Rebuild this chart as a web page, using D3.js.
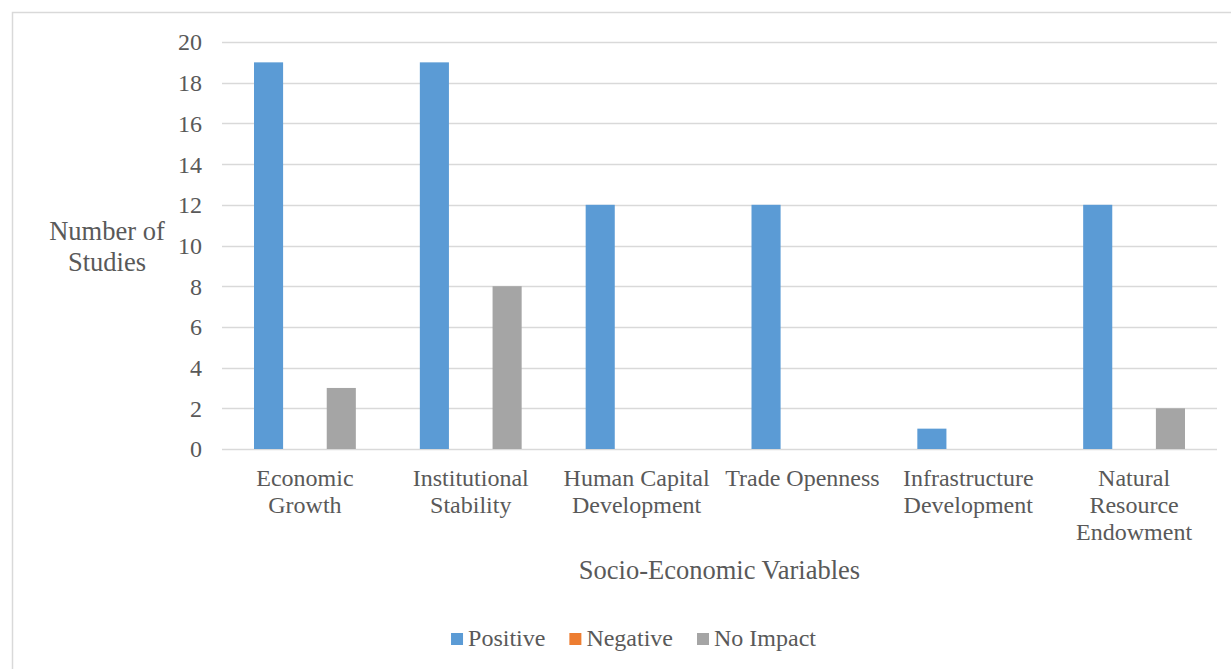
<!DOCTYPE html>
<html>
<head>
<meta charset="utf-8">
<script src="https://cdn.jsdelivr.net/npm/d3@7"></script>
<style>
  html, body { margin: 0; padding: 0; background: #ffffff; }
  svg { display: block; }
</style>
</head>
<body>
<svg id="chart" width="1231" height="669"></svg>
<script>
// Chart data
const categories = [
  "Economic Growth",
  "Institutional Stability",
  "Human Capital Development",
  "Trade Openness",
  "Infrastructure Development",
  "Natural Resource Endowment"
];
const seriesNames = ["Positive", "Negative", "No Impact"];
const positiveValues = [19, 19, 12, 12, 1, 12];
const negativeValues = [0, 0, 0, 0, 0, 0];
const noImpactValues = [3, 8, 0, 0, 0, 2];
const yTicks = [0, 2, 4, 6, 8, 10, 12, 14, 16, 18, 20];
const yTitleLines = ["Number of", "Studies"];
const xTitle = "Socio-Economic Variables";

const colors = ["#5b9bd5", "#ed7d31", "#a5a5a5"];
const seriesValues = [positiveValues, negativeValues, noImpactValues];
const FONT = '"Liberation Serif", "Times New Roman", serif';
const TEXT_COLOR = "#595959";

const rows = categories.map((c, i) => ({
  category: c,
  values: seriesNames.map((s, j) => ({ series: s, value: seriesValues[j][i], color: colors[j] }))
}));

const svg = d3.select("#chart");
const plot = { left: 222, right: 1217, top: 42, bottom: 449 };

function styleText(sel, size) {
  return sel.style("font-family", FONT)
    .style("font-size", size + "px")
    .style("fill", TEXT_COLOR);
}

// Chart-area frame
svg.append("rect")
  .attr("x", 12.5).attr("y", 12.5)
  .attr("width", 1243).attr("height", 700)
  .attr("fill", "#ffffff")
  .attr("stroke", "#d9d9d9").attr("stroke-width", 1.5);

const y = d3.scaleLinear().domain([0, 20]).range([plot.bottom, plot.top]);
const x0 = d3.scaleBand().domain(categories).range([plot.left, plot.right]).padding(0);
const x1 = d3.scaleBand().domain(seriesNames).range([0, x0.bandwidth()])
  .paddingInner(0.2).paddingOuter(0.88);

// Horizontal gridlines
svg.append("g").selectAll("line").data(yTicks).join("line")
  .attr("x1", plot.left).attr("x2", plot.right)
  .attr("y1", d => Math.round(y(d)) + 0.5).attr("y2", d => Math.round(y(d)) + 0.5)
  .attr("stroke", "#d9d9d9").attr("stroke-width", 1.5);

// Y axis tick labels
const yAxis = d3.axisLeft(y).tickValues(yTicks).tickSize(0).tickPadding(20);
const yg = svg.append("g").attr("transform", `translate(${plot.left},0)`).call(yAxis);
yg.select(".domain").remove();
styleText(yg.selectAll("text"), 24).attr("dy", "0.33em");

// Bars
const groups = svg.append("g").selectAll("g").data(rows).join("g")
  .attr("transform", d => `translate(${x0(d.category)},0)`);
groups.selectAll("rect").data(d => d.values).join("rect")
  .attr("x", d => x1(d.series))
  .attr("y", d => y(d.value))
  .attr("width", x1.bandwidth())
  .attr("height", d => y(0) - y(d.value))
  .attr("fill", d => d.color);

// Category labels, wrapped to the band width
const xg = svg.append("g").attr("transform", `translate(0,${plot.bottom})`)
  .call(d3.axisBottom(x0).tickSize(0).tickPadding(0));
xg.select(".domain").remove();
styleText(xg.selectAll("text"), 24)
  .attr("y", 37).attr("dy", 0)
  .each(function () {
    const t = d3.select(this);
    const words = t.text().split(/\s+/);
    const maxW = x0.bandwidth() - 4;
    t.text(null);
    let line = [];
    let tspan = t.append("tspan").attr("x", 0).attr("dy", 0);
    words.forEach(w => {
      line.push(w);
      tspan.text(line.join(" "));
      if (tspan.node().getComputedTextLength() > maxW && line.length > 1) {
        line.pop();
        tspan.text(line.join(" "));
        line = [w];
        tspan = t.append("tspan").attr("x", 0).attr("dy", 27).text(w);
      }
    });
  });

// Axis titles
const yTitle = styleText(svg.append("text"), 26.5).attr("text-anchor", "middle");
yTitleLines.forEach((l, i) => {
  yTitle.append("tspan").attr("x", 107).attr("y", 240 + i * 31).text(l);
});

styleText(svg.append("text"), 26.5)
  .attr("x", (plot.left + plot.right) / 2).attr("y", 579)
  .attr("text-anchor", "middle")
  .text(xTitle);

// Legend
const legend = svg.append("g");
const items = legend.selectAll("g").data(seriesNames).join("g");
items.append("rect")
  .attr("width", 12).attr("height", 12)
  .attr("y", 633)
  .attr("fill", (d, i) => colors[i]);
styleText(items.append("text"), 24)
  .attr("x", 17).attr("y", 646)
  .text(d => d);
let cursor = 0;
const positions = [];
items.each(function () {
  const tw = d3.select(this).select("text").node().getComputedTextLength();
  positions.push(cursor);
  cursor += 17 + tw + 24;
});
const total = cursor - 24;
const startX = 633.5 - total / 2;
items.attr("transform", (d, i) => `translate(${startX + positions[i]},0)`);
</script>
</body>
</html>
